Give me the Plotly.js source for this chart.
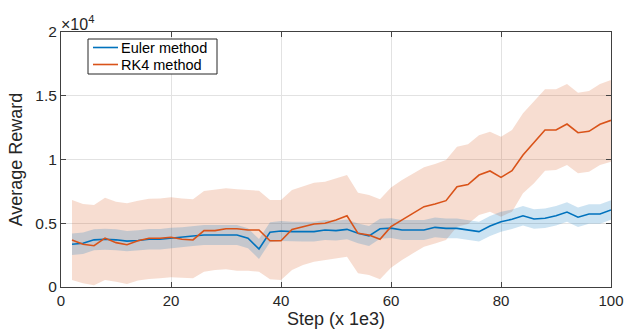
<!DOCTYPE html>
<html>
<head>
<meta charset="utf-8">
<script src="https://cdn.plot.ly/plotly-3.0.1.min.js"></script>
<style>html,body{margin:0;padding:0;background:#fff;}#chart{width:624px;height:331px;}</style>
</head>
<body>
<div id="chart"></div>
<script>
// Steps (x 1e3)
const steps = [2,4,6,8,10,12,14,16,18,20,22,24,26,28,30,32,34,36,38,40,42,44,46,48,50,52,54,56,58,60,62,64,66,68,70,72,74,76,78,80,82,84,86,88,90,92,94,96,98,100];

// Euler method mean reward
const eulerMean = [3350,3430,3700,3750,3700,3600,3650,3750,3750,3850,3900,4000,4080,4080,4080,4080,3820,2980,4290,4390,4340,4340,4340,4470,4420,4520,4210,4000,4570,4620,4470,4470,4470,4680,4600,4600,4470,4340,4780,5120,5310,5590,5330,5390,5590,5880,5470,5730,5730,6040];
// Euler method spread (half-width of shaded band)
const eulerSpread = [850,850,820,820,820,800,800,800,800,800,780,780,780,780,780,780,780,780,780,780,780,780,780,780,780,780,780,780,780,780,780,780,780,780,780,780,780,780,780,780,760,760,760,760,760,760,760,760,760,760];

// RK4 method mean reward
const rk4Mean = [3690,3350,3240,3840,3480,3320,3630,3820,3820,3900,3740,3690,4420,4420,4570,4570,4470,4470,3630,3630,4520,4730,4940,5000,5250,5590,4210,4080,3740,4730,5250,5780,6300,6510,6770,7870,8030,8780,9100,8600,9120,10350,11320,12310,12310,12780,12100,12210,12760,13070];
// RK4 method band upper / lower
const rk4Upper = [6820,6510,6430,7000,6690,6560,6770,6930,6950,7030,6950,6880,7530,7610,7740,7660,7610,7550,6820,6820,7610,7920,8180,8260,8520,8780,7400,7220,6880,7800,8390,8860,9390,9650,9960,11000,11200,11900,12180,11790,12310,13620,14530,15500,15500,15920,15240,15370,15920,16240];
const rk4Lower = [550,290,130,550,420,240,500,630,680,760,730,680,1200,1330,1390,1280,1280,1200,600,550,1330,1730,1990,2120,2250,2380,1070,940,600,1500,2120,2640,3160,3420,3690,4730,4940,5650,5910,5510,5910,7350,8130,9120,9180,9570,8920,9040,9570,9830];

const seriesNames = ['Euler method', 'RK4 method'];
const yTickVals = [0, 5000, 10000, 15000, 20000];
const yTickText = ['0', '0.5', '1', '1.5', '2'];
const xTickVals = [0, 20, 40, 60, 80, 100];

const blue = '#0072BD';
const orange = '#D95319';
const axisColor = '#404040';
const textColor = '#262626';

const eulerUpper = eulerMean.map((v, i) => v + eulerSpread[i]);
const eulerLower = eulerMean.map((v, i) => v - eulerSpread[i]);
const revSteps = steps.slice().reverse();

const traces = [
  {
    x: steps.concat(revSteps),
    y: rk4Upper.concat(rk4Lower.slice().reverse()),
    type: 'scatter', mode: 'lines', fill: 'toself',
    fillcolor: 'rgba(217,83,25,0.2)', line: {width: 0, color: 'rgba(0,0,0,0)'},
    showlegend: false, hoverinfo: 'skip'
  },
  {
    x: steps.concat(revSteps),
    y: eulerUpper.concat(eulerLower.slice().reverse()),
    type: 'scatter', mode: 'lines', fill: 'toself',
    fillcolor: 'rgba(0,114,189,0.2)', line: {width: 0, color: 'rgba(0,0,0,0)'},
    showlegend: false, hoverinfo: 'skip'
  },
  {
    x: steps, y: eulerMean, type: 'scatter', mode: 'lines',
    name: seriesNames[0], line: {color: blue, width: 1.6}, showlegend: false
  },
  {
    x: steps, y: rk4Mean, type: 'scatter', mode: 'lines',
    name: seriesNames[1], line: {color: orange, width: 1.6}, showlegend: false
  }
];

// Legend box drawn in paper coordinates (plot area: x 61..611 px, y 32..287 px)
const W = 550, H = 255, L = 61, B = 287;
const px = v => (v - L) / W;
const py = v => (B - v) / H;
const legendRows = [47.5, 64.5];
const legendColors = [blue, orange];

const shapes = [
  {type: 'rect', xref: 'paper', yref: 'paper', x0: px(88), x1: px(217), y0: py(74), y1: py(39),
   line: {color: textColor, width: 1}, fillcolor: '#ffffff', layer: 'above'}
];
const annotations = [{
  xref: 'paper', yref: 'paper', x: 0, y: 1, xanchor: 'left', yanchor: 'bottom',
  text: '×10<sup>4</sup>', showarrow: false, font: {size: 16, color: textColor}, yshift: -3, xshift: -2
}];
legendRows.forEach((r, i) => {
  shapes.push({type: 'line', xref: 'paper', yref: 'paper', x0: px(93), x1: px(118), y0: py(r), y1: py(r),
    line: {color: legendColors[i], width: 1.6}, layer: 'above'});
  annotations.push({xref: 'paper', yref: 'paper', x: px(120), y: py(r), xanchor: 'left', yanchor: 'middle',
    text: seriesNames[i], showarrow: false, borderpad: 0, font: {size: 14.5, color: '#000'}});
});

const layout = {
  width: 624, height: 331,
  margin: {l: 61, r: 13, t: 32, b: 44},
  paper_bgcolor: '#ffffff', plot_bgcolor: '#ffffff',
  font: {family: 'Liberation Sans, Arial, sans-serif', size: 15, color: textColor},
  showlegend: false,
  xaxis: {
    range: [0, 100], tickvals: xTickVals, ticks: 'inside', ticklen: 5,
    showline: true, linecolor: axisColor, linewidth: 1, mirror: 'ticks',
    showgrid: true, gridcolor: '#e2e2e2', gridwidth: 1, zeroline: false,
    ticklabeloverflow: 'allow',
    tickfont: {size: 15, color: textColor},
    title: {text: 'Step (x 1e3)', font: {size: 18, color: textColor}, standoff: 2}
  },
  yaxis: {
    range: [0, 20000], tickvals: yTickVals, ticktext: yTickText, ticks: 'inside', ticklen: 5,
    showline: true, linecolor: axisColor, linewidth: 1, mirror: 'ticks',
    showgrid: true, gridcolor: '#e2e2e2', gridwidth: 1, zeroline: false,
    ticklabeloverflow: 'allow',
    tickfont: {size: 15.5, color: textColor},
    title: {text: 'Average Reward', font: {size: 18, color: textColor}, standoff: 8}
  },
  shapes: shapes,
  annotations: annotations
};

Plotly.newPlot('chart', traces, layout, {displayModeBar: false, staticPlot: true});
</script>
</body>
</html>
